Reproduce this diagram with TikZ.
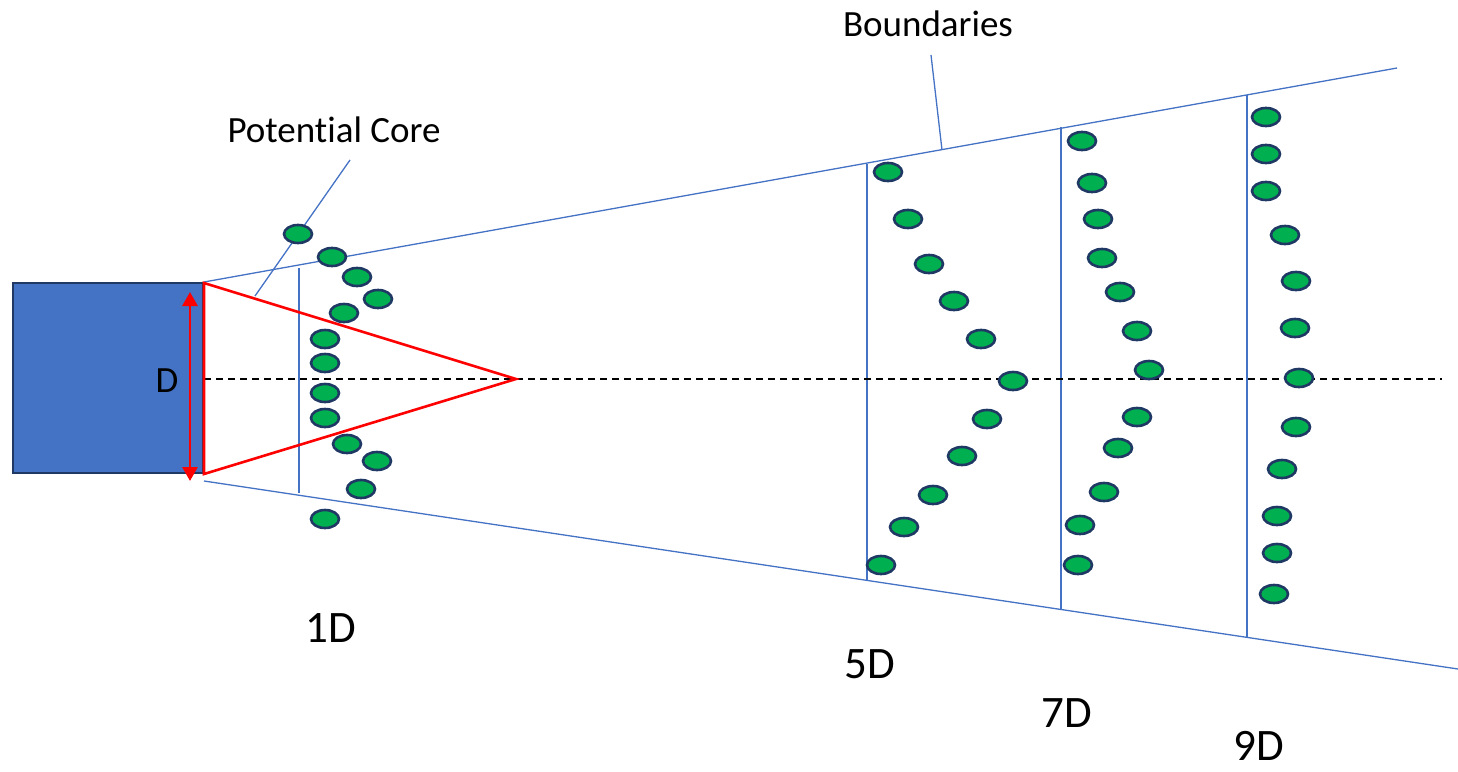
\documentclass[tikz,border=0pt]{standalone}
\usepackage{fontspec}
\setmainfont{Carlito}[Ligatures=NoCommon]
\usetikzlibrary{shapes.geometric,arrows.meta}
\definecolor{boxblue}{HTML}{4472C4}
\definecolor{navy}{HTML}{1F3864}
\definecolor{dotgreen}{HTML}{00B050}
\definecolor{linered}{HTML}{FF0000}
\tikzset{
  dot/.style={ellipse, draw=navy, fill=dotgreen, line width=2.6pt, minimum width=28pt, minimum height=18pt, inner sep=0pt},
  bnd/.style={draw=boxblue, line width=1.3pt},
  redline/.style={draw=linered, line width=2.6pt},
  lab/.style={anchor=base, inner sep=0pt, font=\fontsize{45}{54}\selectfont},
  smalllab/.style={anchor=base, inner sep=0pt, font=\fontsize{37}{44}\selectfont},
}
\begin{document}
\begin{tikzpicture}[x=1pt,y=-1pt]
\useasboundingbox (0,0) rectangle (1458,771);
% nozzle box
\node[draw=navy, fill=boxblue, line width=2.4pt, minimum width=190pt, minimum height=190pt, inner sep=0pt] (box) at (108,378) {};
% coordinates
\coordinate (tl) at (204,282);
\coordinate (tr) at (1397,68);
\coordinate (bl) at (204,481);
\coordinate (br) at (1458,669);
\coordinate (ta) at (204,283);
\coordinate (tb) at (204,474);
\coordinate (apex) at (516,379);
\coordinate (axs) at (204,379);
\coordinate (axe) at (1442,379);
% boundaries
\draw[bnd] (tl) -- (tr);
\draw[bnd] (bl) -- (br);
% vertical station lines
\coordinate (l1a) at (299,268); \coordinate (l1b) at (299,493);
\coordinate (l5a) at (867,164); \coordinate (l5b) at (867,580);
\coordinate (l7a) at (1061,127); \coordinate (l7b) at (1061,610);
\coordinate (l9a) at (1247,95); \coordinate (l9b) at (1247,638);
\draw[bnd] (l1a) -- (l1b);
\draw[bnd] (l5a) -- (l5b);
\draw[bnd] (l7a) -- (l7b);
\draw[bnd] (l9a) -- (l9b);
% axis
\draw[black, line width=1.8pt, dash pattern=on 7pt off 5pt] (axs) -- (axe);
% potential core triangle
\draw[redline, line join=miter] (ta) -- (apex) -- (tb) -- cycle;
% D arrow
\coordinate (da) at (190,292);
\coordinate (db) at (190,481);
\draw[draw=linered, fill=linered, line width=2.8pt, {Triangle[length=14pt,width=15pt]}-{Triangle[length=14pt,width=15pt]}] (da) -- (db);
\node[smalllab] (dlab) at (167,392) {D};
% labels with pointers
\node[smalllab] (pc) at (334,142) {Potential Core};
\coordinate (pca) at (350,160);
\coordinate (pcb) at (255,296);
\draw[bnd] (pca) -- (pcb);
\node[smalllab] (bd) at (928,36) {Boundaries};
\coordinate (bda) at (931,55);
\coordinate (bdb) at (942,150);
\draw[bnd] (bda) -- (bdb);
% station labels
\node[lab] (d1) at (331,642) {1D};
\node[lab] (d5) at (870,678) {5D};
\node[lab] (d7) at (1067,727) {7D};
\node[lab] (d9) at (1259,760) {9D};
% 1D dots
\foreach \x/\y [count=\i] in {298/234, 332/257, 357/277, 378/299, 344/313, 325/339, 325/363, 325/393, 325/418, 347/444, 377/461, 361/489, 325/519}
  \node[dot] (a\i) at (\x,\y) {};
% 5D dots
\foreach \x/\y [count=\i] in {888/172, 908/219, 929/264, 954/301, 981/339, 1013/381, 987/419, 962/456, 933/495, 904/527, 881/565}
  \node[dot] (b\i) at (\x,\y) {};
% 7D dots
\foreach \x/\y [count=\i] in {1082/141, 1092/183, 1098/219, 1102/258, 1120/292, 1137/331, 1149/370, 1137/417, 1118/448, 1104/492, 1080/525, 1078/565}
  \node[dot] (c\i) at (\x,\y) {};
% 9D dots
\foreach \x/\y [count=\i] in {1266/117, 1266/154, 1266/191, 1285/235, 1296/281, 1295/328, 1299/378, 1296/427, 1282/469, 1277/516, 1277/553, 1274/594}
  \node[dot] (e\i) at (\x,\y) {};
\end{tikzpicture}
\end{document}
